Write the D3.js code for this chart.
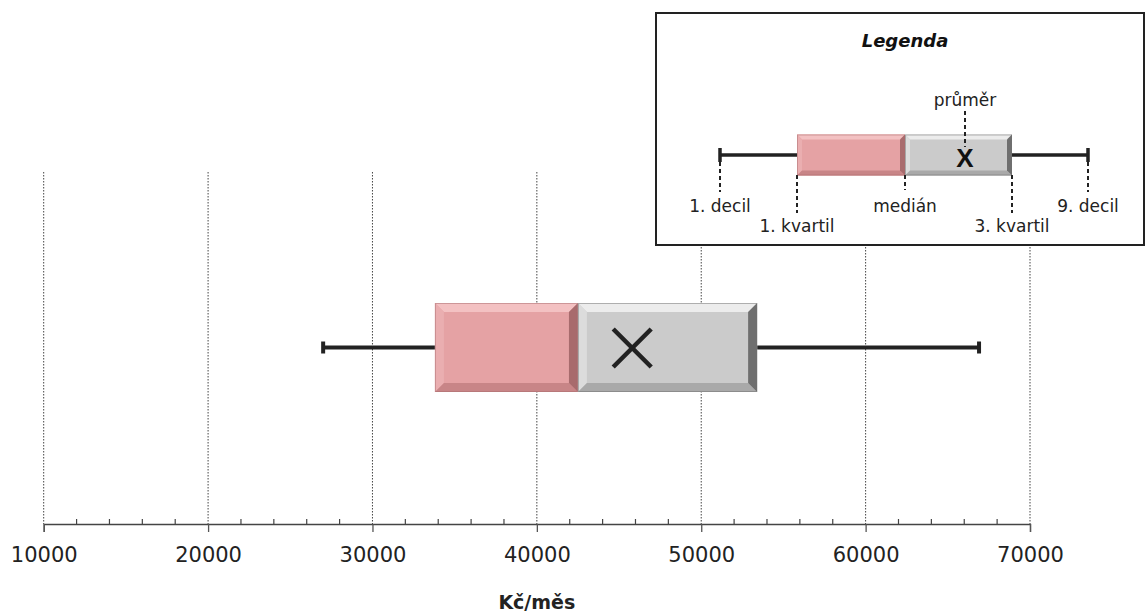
<!DOCTYPE html>
<html>
<head>
<meta charset="utf-8">
<script src="https://cdn.jsdelivr.net/npm/d3@7"></script>
<style>
  body { margin: 0; background: #fff; }
  svg { display: block; font-family: "DejaVu Sans", sans-serif; }
</style>
</head>
<body>
<div id="chart"></div>
<script>
// hodnoty (Kč/měs)
const statNames = ["1. decil", "1. kvartil", "medián", "průměr", "3. kvartil", "9. decil"];
const statValues = [27000, 33800, 42500, 45800, 53400, 66900];
const tickValues = [10000, 20000, 30000, 40000, 50000, 60000, 70000];
const minorStep = 2000;
const axisTitle = "Kč/měs";

// schéma v legendě (libovolné jednotky)
const legendValues = [0, 77, 185, 245, 292, 368];
const legendTitle = "Legenda";

const W = 1145, H = 616;
const svg = d3.select("#chart").append("svg").attr("width", W).attr("height", H);

const x = d3.scaleLinear().domain([10000, 70000]).range([43.7, 1030]);
const plotTop = 172, plotBottom = 524;

const mean = statValues[3];

// svislé mřížky
svg.append("g").selectAll("line")
  .data(tickValues)
  .join("line")
  .attr("x1", d => x(d)).attr("x2", d => x(d))
  .attr("y1", plotTop).attr("y2", plotBottom)
  .style("stroke", "#444")
  .style("stroke-width", 1)
  .style("stroke-dasharray", "1.5,1.5");

// osa
const axis = svg.append("g").attr("transform", `translate(0,${plotBottom})`)
  .call(d3.axisBottom(x).tickValues(tickValues).tickSize(8).tickFormat(d3.format("d")));
axis.select(".domain").style("stroke", "#444").style("stroke-width", 1.3);
axis.selectAll(".tick line").style("stroke", "#555").style("stroke-width", 1.3);
axis.selectAll(".tick text")
  .attr("dy", 0).attr("y", 38)
  .style("font-family", "'DejaVu Sans', sans-serif")
  .style("font-size", "21px")
  .style("fill", "#222");

const minorTicks = d3.range(10000, 70000 + 1, minorStep).filter(v => !tickValues.includes(v));
svg.append("g").selectAll("line")
  .data(minorTicks)
  .join("line")
  .attr("x1", d => x(d)).attr("x2", d => x(d))
  .attr("y1", plotBottom - 5).attr("y2", plotBottom)
  .style("stroke", "#444").style("stroke-width", 1.2);

svg.append("text")
  .attr("x", (x(10000) + x(70000)) / 2)
  .attr("y", 609)
  .attr("text-anchor", "middle")
  .style("font-size", "19px")
  .style("font-weight", "bold")
  .style("fill", "#222")
  .text(axisTitle);

// krabice se zkosenými hranami
const palettes = {
  pink: { face: "#e5a2a4", top: "#f3c1c2", left: "#eaaeb0", bottom: "#c88587", right: "#a86b6d" },
  grey: { face: "#cbcbcb", top: "#ececec", left: "#dcdcdc", bottom: "#a9a9a9", right: "#6f6f6f" }
};

function bevelBox(g, x0, x1, y0, y1, b, pal) {
  g.append("rect").attr("x", x0).attr("y", y0).attr("width", x1 - x0).attr("height", y1 - y0)
    .style("fill", pal.face);
  const pts = {
    top: [[x0, y0], [x1, y0], [x1 - b, y0 + b], [x0 + b, y0 + b]],
    left: [[x0, y0], [x0 + b, y0 + b], [x0 + b, y1 - b], [x0, y1]],
    bottom: [[x0, y1], [x0 + b, y1 - b], [x1 - b, y1 - b], [x1, y1]],
    right: [[x1, y0], [x1, y1], [x1 - b, y1 - b], [x1 - b, y0 + b]]
  };
  Object.keys(pts).forEach(k => {
    g.append("polygon").attr("points", pts[k].map(p => p.join(",")).join(" "))
      .style("fill", pal[k]);
  });
  g.append("rect").attr("x", x0 + 0.5).attr("y", y0 + 0.5)
    .attr("width", x1 - x0 - 1).attr("height", y1 - y0 - 1)
    .style("fill", "none").style("stroke", pal.right).style("stroke-opacity", 0.5);
}

function boxPlot(g, sc, vals, yc, h, opt) {
  const [a, b1, m, mu, b3, e] = vals;
  const y0 = yc - h / 2, y1 = yc + h / 2;
  // vousy
  g.append("line").attr("x1", sc(a)).attr("x2", sc(b1)).attr("y1", yc).attr("y2", yc)
    .style("stroke", "#222").style("stroke-width", opt.whisker);
  g.append("line").attr("x1", sc(b3)).attr("x2", sc(e)).attr("y1", yc).attr("y2", yc)
    .style("stroke", "#222").style("stroke-width", opt.whisker);
  [a, e].forEach(v => {
    g.append("line").attr("x1", sc(v)).attr("x2", sc(v))
      .attr("y1", yc - opt.cap).attr("y2", yc + opt.cap)
      .style("stroke", "#222").style("stroke-width", opt.whisker);
  });
  bevelBox(g, sc(b1), sc(m), y0, y1, opt.bevel, palettes.pink);
  bevelBox(g, sc(m), sc(b3), y0, y1, opt.bevel, palettes.grey);
}

const main = svg.append("g");
boxPlot(main, x, statValues, 347.5, 89, { whisker: 4, cap: 6, bevel: 9 });
const xs = 19;
[[-1, -1, 1, 1], [-1, 1, 1, -1]].forEach(s => {
  main.append("line")
    .attr("x1", x(mean) + s[0] * xs).attr("y1", 348 + s[1] * xs)
    .attr("x2", x(mean) + s[2] * xs).attr("y2", 348 + s[3] * xs)
    .style("stroke", "#222").style("stroke-width", 4.5);
});

// legenda
const leg = svg.append("g");
leg.append("rect").attr("x", 656).attr("y", 13).attr("width", 488).attr("height", 232)
  .style("fill", "#fff").style("stroke", "#222").style("stroke-width", 2);
leg.append("text").attr("x", 905).attr("y", 47).attr("text-anchor", "middle")
  .style("font-size", "18px").style("font-weight", "bold").style("font-style", "italic")
  .style("fill", "#111").text(legendTitle);

const lx = d3.scaleLinear().domain([0, 368]).range([720, 1088]);
const lyc = 155;
boxPlot(leg, lx, legendValues, lyc, 41, { whisker: 3.5, cap: 7, bevel: 5 });
leg.append("text").attr("x", lx(legendValues[3])).attr("y", lyc + 12)
  .attr("text-anchor", "middle")
  .style("font-family", "'Liberation Sans', Arial, sans-serif")
  .style("font-size", "26px").style("font-weight", "bold").style("fill", "#111").text("X");

// popisky legendy s čárkovanými vodítky
const legLabels = [
  { i: 0, y0: lyc + 7, y1: 192, ty: 212 },
  { i: 1, y0: lyc + 20, y1: 213, ty: 232 },
  { i: 2, y0: lyc + 20, y1: 190, ty: 212 },
  { i: 4, y0: lyc + 20, y1: 213, ty: 232 },
  { i: 5, y0: lyc + 7, y1: 192, ty: 212 }
];
legLabels.forEach(d => {
  const px = lx(legendValues[d.i]);
  leg.append("line").attr("x1", px).attr("x2", px).attr("y1", d.y0).attr("y2", d.y1)
    .style("stroke", "#222").style("stroke-width", 2).style("stroke-dasharray", "4,3");
  leg.append("text").attr("x", px).attr("y", d.ty).attr("text-anchor", "middle")
    .style("font-size", "17px").style("fill", "#222").text(statNames[d.i]);
});
const mx = lx(legendValues[3]);
leg.append("line").attr("x1", mx).attr("x2", mx).attr("y1", 111).attr("y2", 147)
  .style("stroke", "#222").style("stroke-width", 2).style("stroke-dasharray", "4,3");
leg.append("text").attr("x", mx).attr("y", 106).attr("text-anchor", "middle")
  .style("font-size", "17px").style("fill", "#222").text(statNames[3]);
</script>
</body>
</html>
